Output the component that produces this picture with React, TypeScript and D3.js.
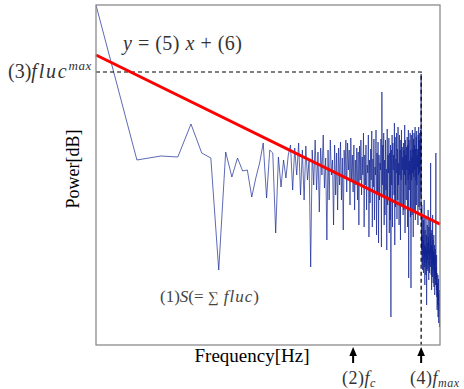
import React from "react";
import * as d3 from "d3";

// Power spectrum (dB, arbitrary offset) at frequency bins k = 1..340
const powerLow = [
  340, 185, 189, 188, 221, 192, 187, 75, 193, 168,
  187, 174, 175, 148, 167, 182, 202, 147, 195, 192,
  112, 188, 158, 185, 167, 190, 200, 155, 197, 170,
  202, 150, 195, 145, 199, 165, 185, 78, 195, 160,
  205, 155, 193, 133, 197, 170, 210, 157, 187, 105,
  195, 145, 205, 170, 185, 120, 200, 150, 192, 135,
  197, 160, 203, 145, 187, 115, 195, 167, 205, 153,
  202, 175, 195, 140, 207, 165, 190, 153, 200, 135,
  185, 160, 197, 145, 193, 120, 199, 165,
];
const powerMid = [
  205, 150, 188, 170, 212, 118, 190, 160, 200, 135,
  180, 172, 210, 108, 185, 142, 196, 165, 214, 118,
  186, 158, 206, 125, 178, 170, 215, 110, 192, 150,
  203, 102, 190, 145, 182, 175, 206, 98, 253, 160,
  200, 148, 212, 120, 185, 130, 205, 155, 176, 95,
  216, 140, 190, 172, 207, 112, 192, 125, 200, 28,
  195, 160, 210, 118, 202, 175, 190, 150, 222, 100,
  208, 138, 186, 172, 212, 126, 196, 145, 218, 160,
  182, 120, 210, 170, 195, 105, 205, 165, 215, 140,
  198, 175, 188, 130, 202, 135, 195, 170, 220, 112,
  205, 160, 190, 145, 198, 175, 208, 118, 200, 165,
  215, 67, 205, 155, 184, 170, 212, 128, 195, 57,
  210, 165, 188, 130, 215, 172, 196, 108, 206, 168,
  212, 135, 200, 175, 218, 125, 196, 165, 208, 140,
  214, 160, 190, 178, 196, 120, 210, 170, 218, 138,
  205, 172, 212, 135, 200, 180, 215,
];
const powerHigh = [
  150, 271, 120, 95, 140, 80, 110, 75, 130, 90,
  105, 72, 125, 85, 145, 78, 100, 60, 115, 88,
  98, 70, 128, 82, 110, 40, 95, 76, 120, 85,
  102, 74, 135, 90, 108, 65, 118, 80, 96, 72,
  125, 86, 104, 78, 182, 92, 112, 70, 100, 55,
  115, 82, 98, 68, 130, 75, 105, 62, 94, 80,
  110, 58, 92, 72, 100, 50, 88, 66, 96, 60,
  85, 192, 70, 78, 55, 90, 48, 72, 35, 62,
  58, 40, 70, 28, 52, 45, 66, 22, 50, 38,
  42, 18, 55, 30, 40,
];
const powerValues = [...powerLow, ...powerMid, ...powerHigh];

// Markers
const fC = 78; // (2) f_c
const fMax = 247; // (4) f_max
const flucMax = 273; // (3) fluc^max
// Fit y = (5) x + (6) in log-frequency
const fitSlope = -29;
const fitIntercept = 290;

const W = 464;
const H = 389;
const L = 96, R = 440, T = 5, B = 345;
const serif = "Liberation Serif, DejaVu Serif, serif";

export default function App() {
  const n = powerValues.length;
  const x = d3.scaleLog().domain([1, n]).range([L, R]);
  const y = d3.scaleLinear().domain([0, 340]).range([B, T]);
  const data = powerValues.map((v, i) => ({ k: i + 1, v }));
  const line = d3
    .line<{ k: number; v: number }>()
    .x((d) => x(d.k))
    .y((d) => y(d.v));
  const fitPts = [1, n].map((k) => ({ k, v: fitIntercept + fitSlope * Math.log(k) }));
  const dash = "4,3";
  const arrow = (fx: number) => {
    const px = x(fx);
    return (
      <g key={fx}>
        <line x1={px} x2={px} y1={363} y2={353} stroke="#000" strokeWidth={2} />
        <path d={`M${px},${347} L${px - 3.8},${356} L${px + 3.8},${356} Z`} fill="#000" />
      </g>
    );
  };
  const ts = { fontFamily: serif } as React.CSSProperties;
  return (
    <svg
      width={W}
      height={H}
      style={{ position: "absolute", left: 0, top: 0, background: "#fff", fontFamily: serif }}
    >
      <rect x={0} y={0} width={W} height={H} fill="#fff" />
      <defs>
        <clipPath id="plot">
          <rect x={L} y={T} width={R - L} height={B - T} />
        </clipPath>
      </defs>
      <g clipPath="url(#plot)">
        <path d={line(data) || ""} fill="none" stroke="#102290" strokeWidth={0.8} strokeOpacity={0.85} />
      </g>
      <path
        d={`M${L},${y(flucMax)} L${x(fMax)},${y(flucMax)} L${x(fMax)},${B}`}
        fill="none"
        stroke="#000"
        strokeWidth={1.2}
        strokeDasharray={dash}
      />
      <path d={line(fitPts) || ""} fill="none" stroke="#ff0000" strokeWidth={3} />
      <rect x={L} y={T} width={R - L} height={B - T} fill="none" stroke="#8a8a8a" strokeWidth={1.3} />
      {arrow(fC)}
      {arrow(fMax)}
      <text x={123} y={50} fontSize={20} fill="#333" style={ts} letterSpacing={0.5}>
        <tspan fontStyle="italic">y</tspan>
        <tspan> = (5) </tspan>
        <tspan fontStyle="italic">x</tspan>
        <tspan> + (6)</tspan>
      </text>
      <text x={8} y={78} fontSize={20} fill="#333" style={ts}>
        <tspan>(3)</tspan>
        <tspan fontStyle="italic" letterSpacing={1.8}>fluc</tspan>
        <tspan fontStyle="italic" fontSize={13} dy={-8} letterSpacing={0.5}>max</tspan>
      </text>
      <text x={160} y={302} fontSize={17} fill="#444" style={ts}>
        <tspan>(1)</tspan>
        <tspan fontStyle="italic">S</tspan>
        <tspan>(= </tspan>
        <tspan fontSize={15}>∑</tspan>
        <tspan fontStyle="italic" letterSpacing={1}> fluc</tspan>
        <tspan>)</tspan>
      </text>
      <text x={342} y={384} fontSize={18} fill="#333" style={ts} letterSpacing={0.5}>
        <tspan>(2)</tspan>
        <tspan fontStyle="italic">f</tspan>
        <tspan fontStyle="italic" fontSize={12} dy={3}>c</tspan>
      </text>
      <text x={410} y={384} fontSize={18} fill="#333" style={ts} letterSpacing={0.5}>
        <tspan>(4)</tspan>
        <tspan fontStyle="italic">f</tspan>
        <tspan fontStyle="italic" fontSize={12} dy={3}>max</tspan>
      </text>
      <text x={252} y={362} fontSize={19} textAnchor="middle" fill="#000" style={ts}>
        Frequency[Hz]
      </text>
      <text
        transform={`translate(79,169) rotate(-90)`}
        fontSize={18}
        textAnchor="middle"
        fill="#000"
        style={ts}
      >
        Power[dB]
      </text>
    </svg>
  );
}
